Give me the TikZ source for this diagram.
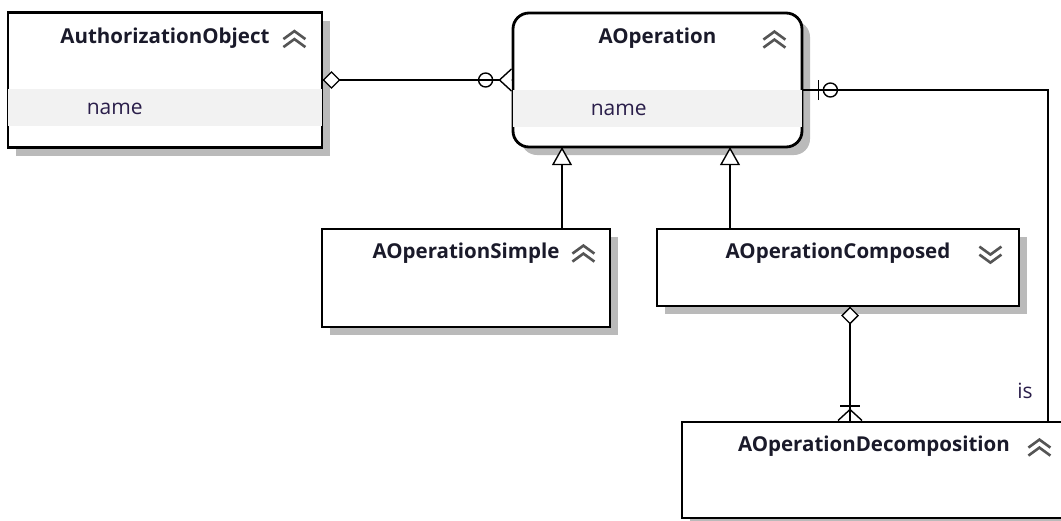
\documentclass[tikz,border=0pt]{standalone}
\usepackage{fontspec}
\setmainfont{Open Sans}
\usetikzlibrary{shadows,decorations.markings,positioning}

\definecolor{titlecol}{HTML}{1A1A2A}
\definecolor{attrcol}{HTML}{2A1E4A}
\definecolor{bandcol}{HTML}{F2F2F2}
\definecolor{chevcol}{HTML}{555555}

\tikzset{
  classbox/.style={draw, line width=2.8pt, fill=white, inner sep=0pt,
    general shadow={fill=black!27, shadow xshift=8pt, shadow yshift=-8pt}},
  classname/.style={font=\bfseries\fontsize{20.5}{24}\selectfont, text=titlecol, anchor=base, inner sep=0pt},
  attrname/.style={font=\fontsize{21}{24}\selectfont, text=attrcol, anchor=west, inner sep=0pt},
  link/.style={line width=2.8pt},
  marker/.style={line width=1.4pt, draw=black},
  chevup/.pic={\draw [chevcol, line width=2.6pt] (-11,0)--(0,8)--(11,0) (-11,-8)--(0,0)--(11,-8);},
  chevdown/.pic={\draw [chevcol, line width=2.6pt] (-11,0)--(0,-8)--(11,0) (-11,8)--(0,0)--(11,8);},
  aggstart/.style={postaction={decorate, decoration={markings,
    mark=at position 0.1pt with {\draw [marker, fill=white] (0,0)--(8,8)--(16,0)--(8,-8)--cycle;}}}},
  inherits/.style={postaction={decorate, decoration={markings,
    mark=at position -0.1pt with {\draw [marker, fill=white] (0,0)--(-16,9)--(-16,-9)--cycle;}}}},
  zeroormany/.style={postaction={decorate, decoration={markings,
    mark=at position -26pt with {\draw [marker] (0,0) circle (7pt);},
    mark=at position -0.1pt with {\draw [marker, fill=white] (0,11)--(-12,0)--(0,-11);}}}},
  zeroorone/.style={postaction={decorate, decoration={markings,
    mark=at position 15pt with {\draw [marker, line width=1.8pt] (0,-10)--(0,10);},
    mark=at position 27pt with {\draw [marker] (0,0) circle (7pt);}}}},
  oneormany/.style={postaction={decorate, decoration={markings,
    mark=at position -15pt with {\draw [marker, line width=1.8pt] (0,-10)--(0,10);},
    mark=at position -0.1pt with {\draw [marker] (0,12)--(-11,0)--(0,-12);}}}}
}

\begin{document}
\begin{tikzpicture}[x=1pt, y=1pt]
\useasboundingbox (0,0) rectangle (1061,-520);

% classes
\node (auth)     [classbox, minimum width=314pt, minimum height=135pt] at (165,-80) {};
\node (aop)      [classbox, rounded corners=16pt, minimum width=289pt, minimum height=134pt] at (657.5,-80) {};
\node (simple)   [classbox, minimum width=288pt, minimum height=98pt] at (466,-278) {};
\node (composed) [classbox, minimum width=362pt, minimum height=77pt] at (838,-267.5) {};
\node (decomp)   [classbox, minimum width=384pt, minimum height=96pt] at (874,-470) {};

% attribute rows
\fill [bandcol] ([shift={(1.4,-78)}]auth.north west) rectangle ([shift={(-1.4,-115)}]auth.north east);
\fill [bandcol] ([shift={(1.4,-78)}]aop.north west) rectangle ([shift={(-1.4,-115)}]aop.north east);

% titles
\node (authtitle)     [classname] at ([yshift=-32pt]auth.north) {AuthorizationObject};
\node (aoptitle)      [classname] at ([yshift=-32pt]aop.north) {AOperation};
\node (simpletitle)   [classname] at ([yshift=-31pt]simple.north) {AOperationSimple};
\node (composedtitle) [classname] at ([yshift=-31pt]composed.north) {AOperationComposed};
\node (decomptitle)   [classname] at ([yshift=-31pt]decomp.north) {AOperationDecomposition};

\pic at ([shift={(-29,-28)}]auth.north east) {chevup};
\pic at ([shift={(-29,-28)}]aop.north east) {chevup};
\pic at ([shift={(-28,-26)}]simple.north east) {chevup};
\pic at ([shift={(-30,-27)}]composed.north east) {chevdown};
\pic at ([shift={(-28,-27)}]decomp.north east) {chevup};

% attributes
\node (authattr) [attrname] at ([shift={(80,-98)}]auth.north west) {name};
\node (aopattr)  [attrname] at ([shift={(79,-98)}]aop.north west) {name};

% relations
\draw [link, aggstart, zeroormany] (auth.east) -- (aop.west);
\draw [link, zeroorone] ([yshift=-10pt]aop.east) -| ([xshift=174pt]decomp.north)
  node (islabel) [attrname, pos=0.955, anchor=east, xshift=-14pt] {is};
\draw [link, inherits] ([xshift=96pt]simple.north) -- ([xshift=96pt]simple.north |- aop.south);
\draw [link, inherits] ([xshift=-108pt]composed.north) -- ([xshift=-108pt]composed.north |- aop.south);
\draw [link, aggstart, oneormany] ([xshift=12pt]composed.south) -- ([xshift=12pt]composed.south |- decomp.north);

\end{tikzpicture}
\end{document}
